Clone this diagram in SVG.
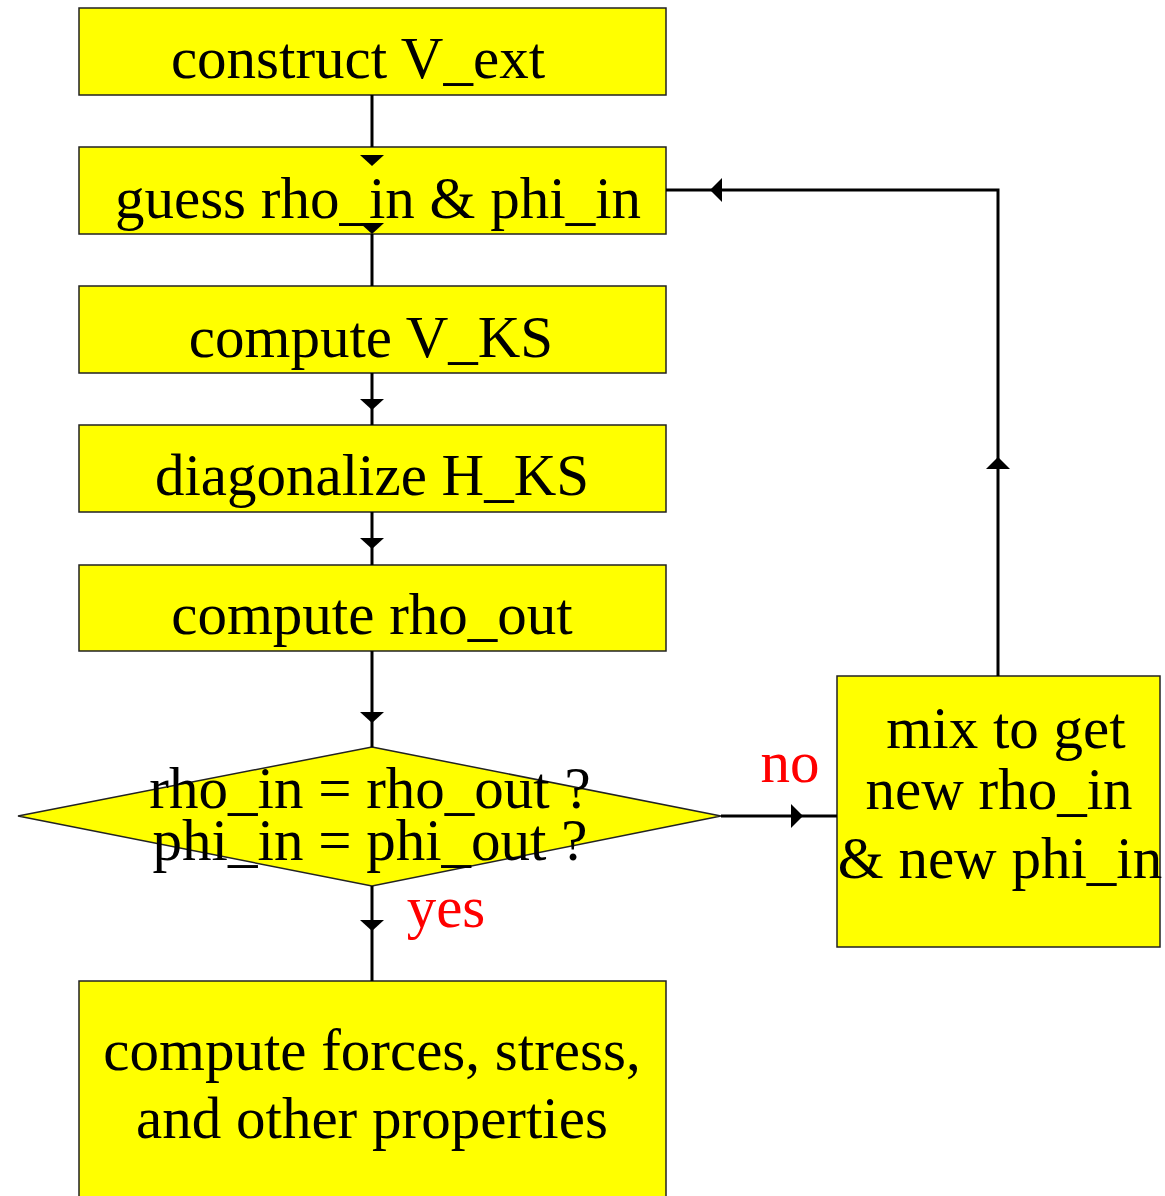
<svg xmlns="http://www.w3.org/2000/svg" width="1165" height="1196" viewBox="0 0 1165 1196">
<style>
.box{fill:#ffff00;stroke:#222;stroke-width:1.5}
.t{font-family:"Liberation Serif","Times New Roman",serif;font-size:59px;fill:#000;text-anchor:middle}
.lbl{font-family:"Liberation Serif","Times New Roman",serif;font-size:59px;fill:#ff0000;text-anchor:middle}
.ln{stroke:#000;stroke-width:3;fill:none}
.ah{fill:#000}
</style>
<rect width="1165" height="1196" fill="#fff"/>
<g id="n1"><rect class="box" x="79" y="8" width="587" height="87"/><text class="t" x="358" y="78">construct V_ext</text></g>
<g id="n2"><rect class="box" x="79" y="147" width="587" height="87"/><text class="t" x="378" y="218">guess rho_in &amp; phi_in</text></g>
<g id="n3"><rect class="box" x="79" y="286" width="587" height="87"/><text class="t" x="371" y="357">compute V_KS</text></g>
<g id="n4"><rect class="box" x="79" y="425" width="587" height="87"/><text class="t" x="372" y="495">diagonalize H_KS</text></g>
<g id="n5"><rect class="box" x="79" y="565" width="587" height="86"/><text class="t" x="372" y="634">compute rho_out</text></g>
<g id="n6"><polygon class="box" points="372,747 721,816 372,886 18,816"/><text class="t" x="370" y="808">rho_in = rho_out ?</text><text class="t" x="370" y="860">phi_in = phi_out ?</text></g>
<g id="n7"><rect class="box" x="837" y="676" width="323" height="271"/><text class="t" x="1006" y="748">mix to get</text><text class="t" x="999" y="809">new rho_in</text><text class="t" x="1000" y="878">&amp; new phi_in</text></g>
<g id="n8"><rect class="box" x="79" y="981" width="587" height="230"/><text class="t" x="372" y="1070">compute forces, stress,</text><text class="t" x="372" y="1138">and other properties</text></g>
<g id="connectors">
<path class="ln" d="M372,95 V147"/>
<path class="ah" d="M360,155 L384,155 L372,166 Z"/>
<path class="ln" d="M372,234 V286"/>
<path class="ah" d="M360,223 L384,223 L372,234 Z"/>
<path class="ln" d="M372,373 V425"/>
<path class="ah" d="M360,399 L384,399 L372,410 Z"/>
<path class="ln" d="M372,512 V565"/>
<path class="ah" d="M360,538 L384,538 L372,549 Z"/>
<path class="ln" d="M372,651 V747"/>
<path class="ah" d="M360,712 L384,712 L372,723 Z"/>
<path class="ln" d="M372,886 V981"/>
<path class="ah" d="M360,920 L384,920 L372,931 Z"/>
<path class="ln" d="M721,816 H837"/>
<path class="ah" d="M791,804 L791,828 L803,816 Z"/>
<path class="ln" d="M998,676 V190 H666"/>
<path class="ah" d="M986,469 L1010,469 L998,457 Z"/>
<path class="ah" d="M722,178 L722,202 L710,190 Z"/>
</g>
<g id="labels"><text class="lbl" x="790" y="782">no</text><text class="lbl" x="446" y="927">yes</text></g>
</svg>
